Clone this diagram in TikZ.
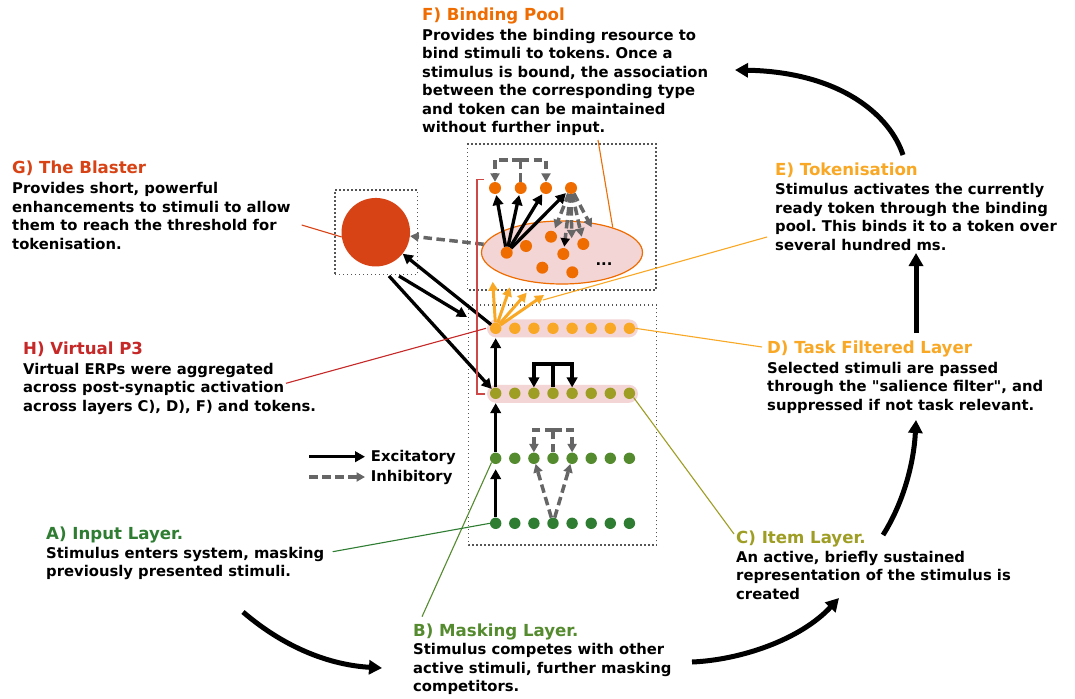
\documentclass[tikz,border=0pt]{standalone}
\usepackage{fontspec}
\setmainfont{DejaVu Sans}[Ligatures=TeXOff]
\usetikzlibrary{arrows.meta,calc,shapes.geometric}
\definecolor{cF}{HTML}{EF6C00}
\definecolor{cG}{HTML}{D84315}
\definecolor{cE}{HTML}{F9A825}
\definecolor{cH}{HTML}{C62828}
\definecolor{cC}{HTML}{9E9D24}
\definecolor{cB}{HTML}{558B2F}
\definecolor{cA}{HTML}{2E7D32}
\definecolor{cPink}{HTML}{F3D5D5}
\definecolor{cInh}{HTML}{666666}
\definecolor{cBox}{HTML}{555555}
\frenchspacing
\begin{document}
\begin{tikzpicture}[x=1pt,y=-1pt,
  ttl/.style={anchor=base west, inner sep=0pt, font=\fontsize{16.6}{20}\selectfont\bfseries},
  % base anchor of a multi-line node = baseline of its LAST line
  bodytxt/.style={anchor=base west, inner sep=0pt, align=left, font=\fontsize{14.8}{18.5}\selectfont\bfseries},
  exc/.style={draw=black, line width=3.3pt, -{Triangle[length=10pt,width=10.5pt]}},
  excline/.style={draw=black, line width=3.3pt},
  inh/.style={draw=cInh, line width=3.5pt, dash pattern=on 8.5pt off 4.5pt, -{Triangle[length=8.5pt,width=9pt]}},
  inhline/.style={draw=cInh, line width=3.5pt, dash pattern=on 8.5pt off 4.5pt},
  orarr/.style={draw=cE, line width=3pt, -{Triangle[length=9pt,width=9.5pt]}},
  bigarr/.style={draw=black, line width=5pt, -{Triangle[length=13pt,width=14pt]}},
  leader/.style={line width=1.1pt},
  dotbox/.style={draw=cBox, line width=1.4pt, dash pattern=on 1.4pt off 2.6pt},
  dot/.style={circle, inner sep=0pt, minimum size=11.4pt, draw=none},
  bdot/.style={circle, inner sep=0pt, minimum size=12pt, draw=none, fill=cF},
  bar/.style={rectangle, rounded corners=9pt, fill=cPink, draw=none, minimum width=151pt, minimum height=18pt, inner sep=0pt}
]
\useasboundingbox (0,0) rectangle (1075,698);
\fill[white] (0,0) rectangle (1075,698);

% ---------- texts ----------
\node[ttl, text=cF] (Ft) at (422,20.7) {F) Binding Pool};
\node[bodytxt] (Fb) at (422,132.7) {Provides the binding resource to\\bind stimuli to tokens. Once a\\stimulus is bound, the association\\between the corresponding type\\and token can be maintained\\without further input.};

\node[ttl, text=cG] (Gt) at (12,173) {G) The Blaster};
\node[bodytxt] (Gb) at (12,249) {Provides short, powerful\\enhancements to stimuli to allow\\them to reach the threshold for\\tokenisation.};

\node[ttl, text=cE] (Et) at (775,175) {E) Tokenisation};
\node[bodytxt] (Eb) at (775,250) {Stimulus activates the currently\\ready token through the binding\\pool. This binds it to a token over\\several hundred ms.};

\node[ttl, text=cH] (Ht) at (23,354) {H) Virtual P3};
\node[bodytxt] (Hb) at (23,411) {Virtual ERPs were aggregated\\across post-synaptic activation\\across layers C), D), F) and tokens.};

\node[ttl, text=cE] (Dt) at (767,353) {D) Task Filtered Layer};
\node[bodytxt] (Db) at (767,410) {Selected stimuli are passed\\through the "salience filter", and\\suppressed if not task relevant.};

\node[ttl, text=cC] (Ct) at (736,543) {C) Item Layer.};
\node[bodytxt] (Cb) at (736,599.3) {An active, briefly sustained\\representation of the stimulus is\\created};

\node[ttl, text=cA] (At) at (46,539) {A) Input Layer.};
\node[bodytxt] (Ab) at (46,576.7) {Stimulus enters system, masking\\previously presented stimuli.};

\node[ttl, text=cB] (Bt) at (413,636) {B) Masking Layer.};
\node[bodytxt] (Bb) at (413,691.7) {Stimulus competes with other\\active stimuli, further masking\\competitors.};

% legend
\node[bodytxt] (Lexc) at (370.7,461.7) {Excitatory};
\node[bodytxt] (Linh) at (370.7,481.7) {Inhibitory};
\coordinate (le1) at (309,456.7);
\coordinate (le2) at (309,477);
\draw[exc] (le1) -- (365,456.7);
\draw[inh] (le2) -- (365,477);

% ---------- boxes ----------
\draw[dotbox] (468.3,305) rectangle (656.7,545);
\draw[dotbox] (467.3,144) rectangle (656,290);
\node[dotbox, minimum width=82.7pt, minimum height=84.3pt, inner sep=0pt] (Gbox) at (376.35,232.15) {};
\node[circle, fill=cG, minimum size=68.5pt, inner sep=0pt] (G) at (375.8,232.2) {};

% pink bars
\node[bar] (Dbar) at (562.5,328.4) {};
\node[bar] (Cbar) at (562.5,393.8) {};

% binding pool
\node[ellipse, draw=cF, fill=cPink, line width=1.2pt, minimum width=161pt, minimum height=63pt, inner sep=0pt] (pool) at (562,252.5) {};

% ---------- dots ----------
\foreach \i in {1,...,8} {
  \node[dot, fill=cE] (D\i) at ({495.7+19.1*(\i-1)},328.3) {};
  \node[dot, fill=cC] (C\i) at ({495.7+19.1*(\i-1)},393.3) {};
  \node[dot, fill=cB] (B\i) at ({495.7+19.1*(\i-1)},458.3) {};
  \node[dot, fill=cA] (A\i) at ({495.7+19.1*(\i-1)},523.3) {};
}
\node[bdot] (T1) at (495,188) {};
\node[bdot] (T2) at (520.7,188) {};
\node[bdot] (T3) at (546,188) {};
\node[bdot] (T4) at (571,188) {};
\node[bdot] (P1) at (506.7,252.7) {};
\node[bdot] (P2) at (526,246) {};
\node[bdot] (P3) at (551,236.7) {};
\node[bdot] (P4) at (563.3,254) {};
\node[bdot] (P5) at (583.3,244) {};
\node[bdot] (P6) at (542.3,267.7) {};
\node[bdot] (P7) at (572.3,272.3) {};
\node[font=\fontsize{14.8}{18.6}\selectfont\bfseries, inner sep=0pt] (ell) at (604,264) {...};

% ---------- lower box connections ----------
\draw[exc, shorten >=5pt] (A1.north) -- (B1.south);
\draw[exc, shorten >=4pt] (B1.north) -- (C1.south);
\draw[exc, shorten >=4pt] (C1.north) -- (D1.south);
\draw[inh] (A4) -- (B3);
\draw[inh] (A4) -- (B5);
\draw[inhline] (B4.north) -- (B4|-0,430);
\draw[inh] (B4|-0,430) -| (B3);
\draw[inh] (B4|-0,430) -| (B5);
\draw[excline] (C4.north) -- (C4|-0,364);
\draw[exc] (C4|-0,364) -| (C3);
\draw[exc] (C4|-0,364) -| (C5);

% ---------- upper box connections ----------
\foreach \t in {T1,T2,T3,T4} { \draw[exc, shorten >=1pt] (P1) -- (\t); }
\draw[inhline] (T2.north) -- (T2|-0,160);
\draw[inh] (T2|-0,160) -| (T1);
\draw[inh] (T2|-0,160) -| (T3);
\coordinate (q1) at (555,228.3);
\coordinate (q2) at (564.3,246.7);
\coordinate (q3) at (571.7,238.3);
\coordinate (q4) at (581.7,236.7);
\coordinate (q5) at (591.7,227.3);
\draw[inh] (T4) -- (q1);
\draw[inh] (T4) -- (q3);
\draw[inh] (T4) -- (q4);
\draw[inh] (T4) -- (q5);
\draw[draw=cInh, line width=3.5pt, dash pattern=on 8.5pt off 4.5pt, -{Triangle[length=8.5pt,width=9pt,color=black]}] (T4) -- (q2);

% orange fan
\coordinate (o1) at (492.7,281.7);
\coordinate (o2) at (510,287.3);
\coordinate (o3) at (526.7,292.7);
\coordinate (o4) at (544,295);
\foreach \o in {o1,o2,o3,o4} { \draw[orarr] (D1) -- (\o); }

% ---------- blaster connections ----------
\draw[inh] (pool.174) -- (G);
\draw[exc] (D1) -- (G);
\coordinate (g1) at (399,276);
\coordinate (g1e) at (467,317);
\coordinate (g2) at (389,276);
\draw[exc] (g1) -- (g1e);
\draw[exc] (g2) -- (C1);

% ---------- H bracket ----------
\draw[cH!85!white, line width=1.3pt] (484,179.3) -- (477,179.3) -- (477,394) -- (485,394);
\coordinate (hl) at (286,383.3);
\coordinate (hr) at (486,328.3);
\draw[leader, cH] (hl) -- (hr);

% ---------- leaders ----------
\coordinate (fl) at (598,140);
\coordinate (fr) at (612.7,227.3);
\draw[leader, cF] (fl) -- (fr);
\coordinate (gl) at (301.7,225);
\draw[leader, cG] (gl) -- (G.188);
\coordinate (el) at (767,237);
\coordinate (er) at (543,300);
\draw[leader, cE] (el) -- (er);
\coordinate (dl) at (762,347);
\draw[leader, cE] (dl) -- (D8.east);
\coordinate (cl) at (734,534);
\draw[leader, cC] (cl) -- (C8.south east);
\coordinate (bl) at (422,616.7);
\draw[leader, cB] (bl) -- (B1.south west);
\coordinate (al) at (332.7,551.7);
\draw[leader, cA] (al) -- (A1.west);

% ---------- big cycle arrows ----------
\coordinate (c1s) at (243,612);
\coordinate (c1e) at (382,668);
\draw[bigarr] (c1s) .. controls (285,648) and (330,665) .. (c1e);
\coordinate (c2s) at (692,662);
\coordinate (c2e) at (839,598);
\draw[bigarr] (c2s) .. controls (740,660) and (800,640) .. (c2e);
\coordinate (c3s) at (883,535);
\coordinate (c3e) at (916,420);
\draw[bigarr] (c3s) .. controls (905,500) and (914,460) .. (c3e);
\coordinate (c4s) at (916,333);
\coordinate (c4e) at (916,253);
\draw[bigarr] (c4s) -- (c4e);
\coordinate (c5s) at (903,155);
\coordinate (c5e) at (735,70);
\draw[bigarr] (c5s) .. controls (890,115) and (840,72) .. (c5e);
\end{tikzpicture}
\end{document}
